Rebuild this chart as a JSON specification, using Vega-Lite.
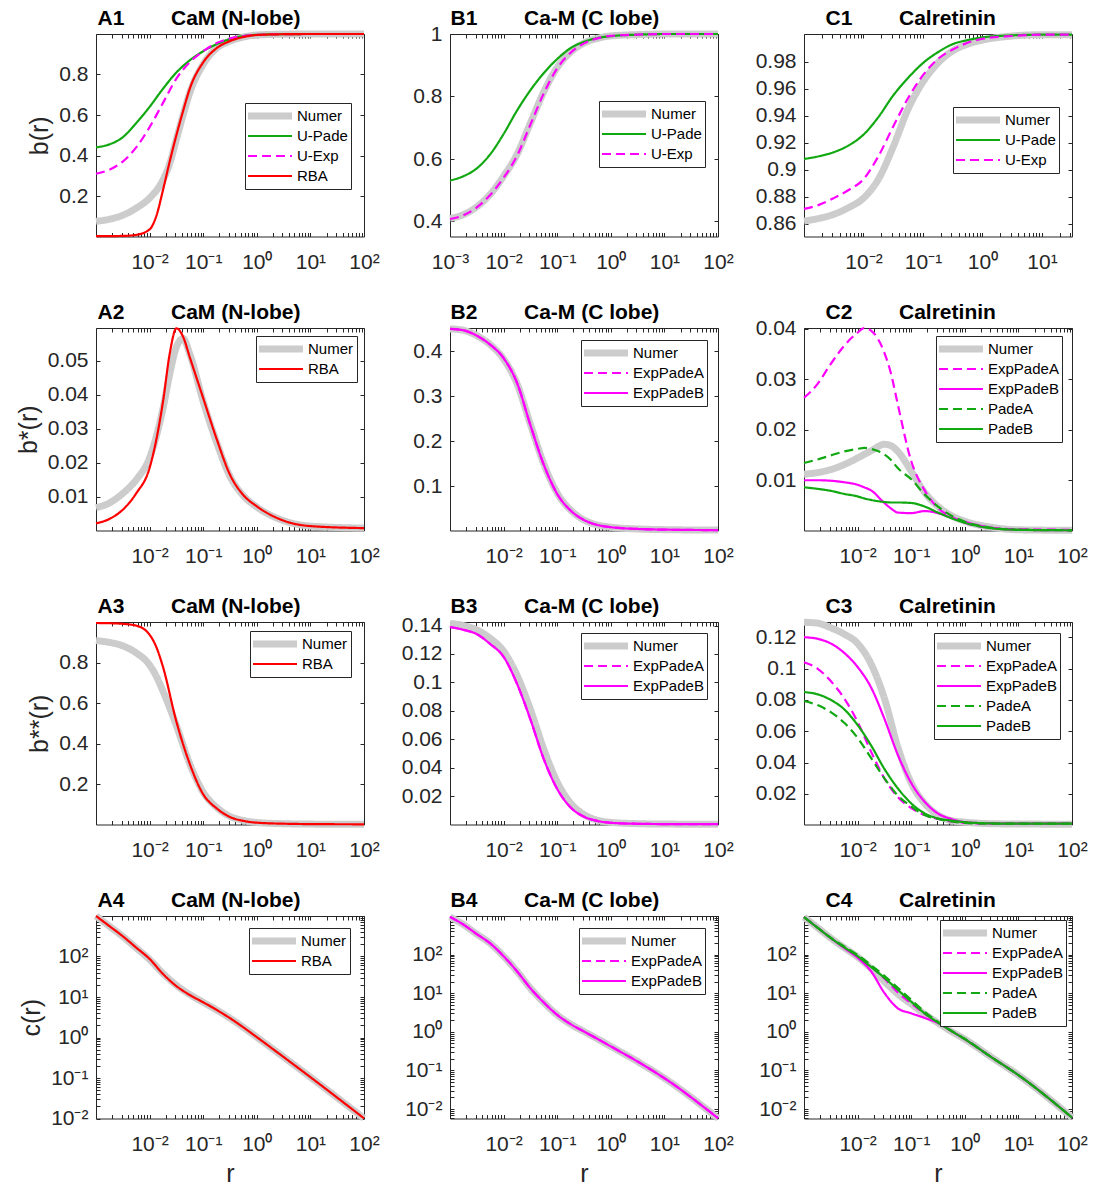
{
"$schema": "https://vega.github.io/schema/vega-lite/v6.json",
"background": "white",
"padding": {"left": 15, "top": 7, "right": 5, "bottom": 5},
"config": {
  "font": "Liberation Sans",
  "view": {"stroke": "#262626", "strokeWidth": 1},
  "axis": {"domain": false, "grid": false, "labelFontSize": 21, "labelFont": "Liberation Sans", "labelColor": "#262626", "tickColor": "#262626", "tickSize": -4, "titleFontSize": 25, "titleFontWeight": "normal", "titleColor": "#262626", "titleFont": "Liberation Sans", "labelFlush": false, "labelOverlap": false, "titlePadding": 6},
  "axisX": {"labelPadding": 19, "titlePadding": 7},
  "axisY": {"labelPadding": 12},
  "axisTop": {"titleFontWeight": "bold", "titleFontSize": 21, "titleColor": "#000000", "titleAlign": "left", "titleBaseline": "alphabetic", "titleAnchor": "start", "titleY": -9.5},
  "legend": {"labelFontSize": 15, "labelFont": "Liberation Sans", "labelColor": "#000000", "strokeColor": "#262626", "fillColor": "#ffffff", "padding": 3, "symbolSize": 1936, "clipHeight": 20, "rowPadding": 0, "labelOffset": 19.5, "symbolOffset": 14.5, "cornerRadius": 0, "symbolType": "stroke"},
  "line": {"interpolate": "monotone", "clip": true}
},
"columns": 3,
"spacing": {"row": 91, "column": 86},
"bounds": "flush",
"resolve": {"scale": {"color": "independent", "strokeDash": "independent"}, "legend": {"color": "independent", "strokeDash": "independent"}},
"datasets": {
"A1": [
{"s":"Numer","r":0.001,"v":0.075},{"s":"Numer","r":0.00178,"v":0.085},{"s":"Numer","r":0.00316,"v":0.105},{"s":"Numer","r":0.00562,"v":0.14},{"s":"Numer","r":0.01,"v":0.19},{"s":"Numer","r":0.0178,"v":0.28},{"s":"Numer","r":0.0237,"v":0.36},{"s":"Numer","r":0.0316,"v":0.48},{"s":"Numer","r":0.0422,"v":0.6},{"s":"Numer","r":0.0562,"v":0.71},{"s":"Numer","r":0.1,"v":0.85},{"s":"Numer","r":0.178,"v":0.93},{"s":"Numer","r":0.316,"v":0.965},{"s":"Numer","r":0.562,"v":0.985},{"s":"Numer","r":1,"v":0.995},{"s":"Numer","r":3.16,"v":0.999},{"s":"Numer","r":10,"v":1},{"s":"Numer","r":100,"v":1},
{"s":"U-Pade","r":0.001,"v":0.44},{"s":"U-Pade","r":0.00178,"v":0.455},{"s":"U-Pade","r":0.00316,"v":0.49},{"s":"U-Pade","r":0.00562,"v":0.56},{"s":"U-Pade","r":0.01,"v":0.64},{"s":"U-Pade","r":0.0178,"v":0.73},{"s":"U-Pade","r":0.0316,"v":0.81},{"s":"U-Pade","r":0.0562,"v":0.87},{"s":"U-Pade","r":0.1,"v":0.915},{"s":"U-Pade","r":0.178,"v":0.95},{"s":"U-Pade","r":0.316,"v":0.975},{"s":"U-Pade","r":0.562,"v":0.99},{"s":"U-Pade","r":1,"v":0.996},{"s":"U-Pade","r":3.16,"v":0.999},{"s":"U-Pade","r":10,"v":1},{"s":"U-Pade","r":100,"v":1},
{"s":"U-Exp","r":0.001,"v":0.31},{"s":"U-Exp","r":0.00178,"v":0.33},{"s":"U-Exp","r":0.00316,"v":0.37},{"s":"U-Exp","r":0.00562,"v":0.44},{"s":"U-Exp","r":0.01,"v":0.54},{"s":"U-Exp","r":0.0178,"v":0.66},{"s":"U-Exp","r":0.0316,"v":0.78},{"s":"U-Exp","r":0.0562,"v":0.86},{"s":"U-Exp","r":0.1,"v":0.915},{"s":"U-Exp","r":0.178,"v":0.955},{"s":"U-Exp","r":0.316,"v":0.978},{"s":"U-Exp","r":0.562,"v":0.99},{"s":"U-Exp","r":1,"v":0.996},{"s":"U-Exp","r":3.16,"v":0.999},{"s":"U-Exp","r":10,"v":1},{"s":"U-Exp","r":100,"v":1},
{"s":"RBA","r":0.001,"v":0.002},{"s":"RBA","r":0.00178,"v":0.002},{"s":"RBA","r":0.00316,"v":0.003},{"s":"RBA","r":0.00562,"v":0.008},{"s":"RBA","r":0.01,"v":0.035},{"s":"RBA","r":0.0133,"v":0.1},{"s":"RBA","r":0.0178,"v":0.23},{"s":"RBA","r":0.0237,"v":0.37},{"s":"RBA","r":0.0316,"v":0.5},{"s":"RBA","r":0.0422,"v":0.62},{"s":"RBA","r":0.0562,"v":0.73},{"s":"RBA","r":0.1,"v":0.86},{"s":"RBA","r":0.178,"v":0.93},{"s":"RBA","r":0.316,"v":0.965},{"s":"RBA","r":0.562,"v":0.985},{"s":"RBA","r":1,"v":0.995},{"s":"RBA","r":3.16,"v":0.999},{"s":"RBA","r":10,"v":1},{"s":"RBA","r":100,"v":1}
],
"B1": [
{"s":"Numer","r":0.001,"v":0.41},{"s":"Numer","r":0.00178,"v":0.422},{"s":"Numer","r":0.00316,"v":0.447},{"s":"Numer","r":0.00562,"v":0.487},{"s":"Numer","r":0.01,"v":0.545},{"s":"Numer","r":0.0178,"v":0.615},{"s":"Numer","r":0.0316,"v":0.715},{"s":"Numer","r":0.0562,"v":0.815},{"s":"Numer","r":0.1,"v":0.893},{"s":"Numer","r":0.178,"v":0.942},{"s":"Numer","r":0.316,"v":0.971},{"s":"Numer","r":0.562,"v":0.986},{"s":"Numer","r":1,"v":0.994},{"s":"Numer","r":3.16,"v":0.998},{"s":"Numer","r":10,"v":1},{"s":"Numer","r":100,"v":1},
{"s":"U-Pade","r":0.001,"v":0.531},{"s":"U-Pade","r":0.00178,"v":0.545},{"s":"U-Pade","r":0.00316,"v":0.57},{"s":"U-Pade","r":0.00562,"v":0.615},{"s":"U-Pade","r":0.01,"v":0.68},{"s":"U-Pade","r":0.0178,"v":0.755},{"s":"U-Pade","r":0.0316,"v":0.82},{"s":"U-Pade","r":0.0562,"v":0.875},{"s":"U-Pade","r":0.1,"v":0.92},{"s":"U-Pade","r":0.178,"v":0.955},{"s":"U-Pade","r":0.316,"v":0.975},{"s":"U-Pade","r":0.562,"v":0.987},{"s":"U-Pade","r":1,"v":0.993},{"s":"U-Pade","r":3.16,"v":0.998},{"s":"U-Pade","r":10,"v":1},{"s":"U-Pade","r":100,"v":1},
{"s":"U-Exp","r":0.001,"v":0.408},{"s":"U-Exp","r":0.00178,"v":0.42},{"s":"U-Exp","r":0.00316,"v":0.445},{"s":"U-Exp","r":0.00562,"v":0.485},{"s":"U-Exp","r":0.01,"v":0.54},{"s":"U-Exp","r":0.0178,"v":0.61},{"s":"U-Exp","r":0.0316,"v":0.71},{"s":"U-Exp","r":0.0562,"v":0.81},{"s":"U-Exp","r":0.1,"v":0.89},{"s":"U-Exp","r":0.178,"v":0.94},{"s":"U-Exp","r":0.316,"v":0.97},{"s":"U-Exp","r":0.562,"v":0.986},{"s":"U-Exp","r":1,"v":0.994},{"s":"U-Exp","r":3.16,"v":0.998},{"s":"U-Exp","r":10,"v":1},{"s":"U-Exp","r":100,"v":1}
],
"C1": [
{"s":"Numer","r":0.001,"v":0.862},{"s":"Numer","r":0.00178,"v":0.864},{"s":"Numer","r":0.00316,"v":0.867},{"s":"Numer","r":0.00562,"v":0.872},{"s":"Numer","r":0.01,"v":0.879},{"s":"Numer","r":0.0178,"v":0.893},{"s":"Numer","r":0.0316,"v":0.917},{"s":"Numer","r":0.0562,"v":0.945},{"s":"Numer","r":0.1,"v":0.965},{"s":"Numer","r":0.178,"v":0.979},{"s":"Numer","r":0.316,"v":0.988},{"s":"Numer","r":0.562,"v":0.993},{"s":"Numer","r":1,"v":0.996},{"s":"Numer","r":3.16,"v":0.999},{"s":"Numer","r":10,"v":1},{"s":"Numer","r":32,"v":1},
{"s":"U-Pade","r":0.001,"v":0.908},{"s":"U-Pade","r":0.00178,"v":0.91},{"s":"U-Pade","r":0.00316,"v":0.913},{"s":"U-Pade","r":0.00562,"v":0.918},{"s":"U-Pade","r":0.01,"v":0.926},{"s":"U-Pade","r":0.0178,"v":0.939},{"s":"U-Pade","r":0.0316,"v":0.955},{"s":"U-Pade","r":0.0562,"v":0.968},{"s":"U-Pade","r":0.1,"v":0.979},{"s":"U-Pade","r":0.178,"v":0.987},{"s":"U-Pade","r":0.316,"v":0.993},{"s":"U-Pade","r":0.562,"v":0.996},{"s":"U-Pade","r":1,"v":0.998},{"s":"U-Pade","r":3.16,"v":0.9995},{"s":"U-Pade","r":10,"v":1},{"s":"U-Pade","r":32,"v":1},
{"s":"U-Exp","r":0.001,"v":0.871},{"s":"U-Exp","r":0.00178,"v":0.874},{"s":"U-Exp","r":0.00316,"v":0.879},{"s":"U-Exp","r":0.00562,"v":0.885},{"s":"U-Exp","r":0.01,"v":0.893},{"s":"U-Exp","r":0.0178,"v":0.91},{"s":"U-Exp","r":0.0316,"v":0.932},{"s":"U-Exp","r":0.0562,"v":0.953},{"s":"U-Exp","r":0.1,"v":0.97},{"s":"U-Exp","r":0.178,"v":0.982},{"s":"U-Exp","r":0.316,"v":0.989},{"s":"U-Exp","r":0.562,"v":0.994},{"s":"U-Exp","r":1,"v":0.997},{"s":"U-Exp","r":3.16,"v":0.999},{"s":"U-Exp","r":10,"v":1},{"s":"U-Exp","r":32,"v":1}
],
"A2": [
{"s":"Numer","r":0.001,"v":0.0068},{"s":"Numer","r":0.00178,"v":0.0082},{"s":"Numer","r":0.00316,"v":0.011},{"s":"Numer","r":0.00562,"v":0.015},{"s":"Numer","r":0.01,"v":0.0215},{"s":"Numer","r":0.0178,"v":0.036},{"s":"Numer","r":0.0237,"v":0.046},{"s":"Numer","r":0.0316,"v":0.054},{"s":"Numer","r":0.0422,"v":0.0565},{"s":"Numer","r":0.0562,"v":0.052},{"s":"Numer","r":0.1,"v":0.038},{"s":"Numer","r":0.178,"v":0.026},{"s":"Numer","r":0.316,"v":0.016},{"s":"Numer","r":0.562,"v":0.0103},{"s":"Numer","r":1,"v":0.007},{"s":"Numer","r":3.16,"v":0.003},{"s":"Numer","r":10,"v":0.0014},{"s":"Numer","r":100,"v":0.0008},
{"s":"RBA","r":0.001,"v":0.0022},{"s":"RBA","r":0.00178,"v":0.0035},{"s":"RBA","r":0.00316,"v":0.0062},{"s":"RBA","r":0.00562,"v":0.011},{"s":"RBA","r":0.01,"v":0.0185},{"s":"RBA","r":0.0178,"v":0.038},{"s":"RBA","r":0.0237,"v":0.052},{"s":"RBA","r":0.0316,"v":0.0595},{"s":"RBA","r":0.0422,"v":0.057},{"s":"RBA","r":0.0562,"v":0.051},{"s":"RBA","r":0.1,"v":0.039},{"s":"RBA","r":0.178,"v":0.027},{"s":"RBA","r":0.316,"v":0.0165},{"s":"RBA","r":0.562,"v":0.0105},{"s":"RBA","r":1,"v":0.0072},{"s":"RBA","r":3.16,"v":0.003},{"s":"RBA","r":10,"v":0.0014},{"s":"RBA","r":100,"v":0.0008}
],
"B2": [
{"s":"Numer","r":0.001,"v":0.45},{"s":"Numer","r":0.00178,"v":0.447},{"s":"Numer","r":0.00316,"v":0.435},{"s":"Numer","r":0.00562,"v":0.415},{"s":"Numer","r":0.01,"v":0.383},{"s":"Numer","r":0.0178,"v":0.328},{"s":"Numer","r":0.0316,"v":0.238},{"s":"Numer","r":0.0562,"v":0.15},{"s":"Numer","r":0.1,"v":0.085},{"s":"Numer","r":0.178,"v":0.047},{"s":"Numer","r":0.316,"v":0.025},{"s":"Numer","r":0.562,"v":0.014},{"s":"Numer","r":1,"v":0.009},{"s":"Numer","r":3.16,"v":0.005},{"s":"Numer","r":10,"v":0.0035},{"s":"Numer","r":100,"v":0.0025},
{"s":"ExpPadeA","r":0.001,"v":0.45},{"s":"ExpPadeA","r":0.00178,"v":0.447},{"s":"ExpPadeA","r":0.00316,"v":0.435},{"s":"ExpPadeA","r":0.00562,"v":0.415},{"s":"ExpPadeA","r":0.01,"v":0.385},{"s":"ExpPadeA","r":0.0178,"v":0.33},{"s":"ExpPadeA","r":0.0316,"v":0.236},{"s":"ExpPadeA","r":0.0562,"v":0.148},{"s":"ExpPadeA","r":0.1,"v":0.083},{"s":"ExpPadeA","r":0.178,"v":0.046},{"s":"ExpPadeA","r":0.316,"v":0.025},{"s":"ExpPadeA","r":0.562,"v":0.014},{"s":"ExpPadeA","r":1,"v":0.009},{"s":"ExpPadeA","r":3.16,"v":0.005},{"s":"ExpPadeA","r":10,"v":0.0035},{"s":"ExpPadeA","r":100,"v":0.0025},
{"s":"ExpPadeB","r":0.001,"v":0.45},{"s":"ExpPadeB","r":0.00178,"v":0.447},{"s":"ExpPadeB","r":0.00316,"v":0.435},{"s":"ExpPadeB","r":0.00562,"v":0.415},{"s":"ExpPadeB","r":0.01,"v":0.385},{"s":"ExpPadeB","r":0.0178,"v":0.33},{"s":"ExpPadeB","r":0.0316,"v":0.236},{"s":"ExpPadeB","r":0.0562,"v":0.148},{"s":"ExpPadeB","r":0.1,"v":0.083},{"s":"ExpPadeB","r":0.178,"v":0.046},{"s":"ExpPadeB","r":0.316,"v":0.025},{"s":"ExpPadeB","r":0.562,"v":0.014},{"s":"ExpPadeB","r":1,"v":0.009},{"s":"ExpPadeB","r":3.16,"v":0.005},{"s":"ExpPadeB","r":10,"v":0.0035},{"s":"ExpPadeB","r":100,"v":0.0025}
],
"C2": [
{"s":"Numer","r":0.001,"v":0.0112},{"s":"Numer","r":0.00178,"v":0.0115},{"s":"Numer","r":0.00316,"v":0.0121},{"s":"Numer","r":0.00562,"v":0.0131},{"s":"Numer","r":0.01,"v":0.0144},{"s":"Numer","r":0.0133,"v":0.0151},{"s":"Numer","r":0.0178,"v":0.0158},{"s":"Numer","r":0.0316,"v":0.0171},{"s":"Numer","r":0.0422,"v":0.0168},{"s":"Numer","r":0.0562,"v":0.0157},{"s":"Numer","r":0.1,"v":0.0118},{"s":"Numer","r":0.178,"v":0.0076},{"s":"Numer","r":0.316,"v":0.0048},{"s":"Numer","r":0.562,"v":0.003},{"s":"Numer","r":1,"v":0.0019},{"s":"Numer","r":3.16,"v":0.0007},{"s":"Numer","r":10,"v":0.0002},{"s":"Numer","r":100,"v":0.0001},
{"s":"ExpPadeA","r":0.001,"v":0.0263},{"s":"ExpPadeA","r":0.00178,"v":0.029},{"s":"ExpPadeA","r":0.00316,"v":0.033},{"s":"ExpPadeA","r":0.00562,"v":0.0366},{"s":"ExpPadeA","r":0.01,"v":0.0392},{"s":"ExpPadeA","r":0.0133,"v":0.0401},{"s":"ExpPadeA","r":0.0178,"v":0.0396},{"s":"ExpPadeA","r":0.0316,"v":0.0352},{"s":"ExpPadeA","r":0.0422,"v":0.031},{"s":"ExpPadeA","r":0.0562,"v":0.025},{"s":"ExpPadeA","r":0.1,"v":0.0138},{"s":"ExpPadeA","r":0.178,"v":0.008},{"s":"ExpPadeA","r":0.316,"v":0.0045},{"s":"ExpPadeA","r":0.562,"v":0.0028},{"s":"ExpPadeA","r":1,"v":0.0016},{"s":"ExpPadeA","r":3.16,"v":0.0006},{"s":"ExpPadeA","r":10,"v":0.0003},{"s":"ExpPadeA","r":100,"v":0.0002},
{"s":"ExpPadeB","r":0.001,"v":0.01},{"s":"ExpPadeB","r":0.00178,"v":0.01},{"s":"ExpPadeB","r":0.00316,"v":0.0099},{"s":"ExpPadeB","r":0.00562,"v":0.0096},{"s":"ExpPadeB","r":0.01,"v":0.0091},{"s":"ExpPadeB","r":0.0133,"v":0.0086},{"s":"ExpPadeB","r":0.0178,"v":0.008},{"s":"ExpPadeB","r":0.0316,"v":0.0055},{"s":"ExpPadeB","r":0.0422,"v":0.0044},{"s":"ExpPadeB","r":0.0562,"v":0.0036},{"s":"ExpPadeB","r":0.1,"v":0.0035},{"s":"ExpPadeB","r":0.178,"v":0.0039},{"s":"ExpPadeB","r":0.316,"v":0.0035},{"s":"ExpPadeB","r":0.562,"v":0.0026},{"s":"ExpPadeB","r":1,"v":0.0018},{"s":"ExpPadeB","r":3.16,"v":0.0006},{"s":"ExpPadeB","r":10,"v":0.0002},{"s":"ExpPadeB","r":100,"v":0.0001},
{"s":"PadeA","r":0.001,"v":0.0134},{"s":"PadeA","r":0.00178,"v":0.0141},{"s":"PadeA","r":0.00316,"v":0.0149},{"s":"PadeA","r":0.00562,"v":0.0157},{"s":"PadeA","r":0.01,"v":0.0162},{"s":"PadeA","r":0.0133,"v":0.0164},{"s":"PadeA","r":0.0178,"v":0.0162},{"s":"PadeA","r":0.0316,"v":0.0151},{"s":"PadeA","r":0.0422,"v":0.014},{"s":"PadeA","r":0.0562,"v":0.0124},{"s":"PadeA","r":0.1,"v":0.0102},{"s":"PadeA","r":0.178,"v":0.0072},{"s":"PadeA","r":0.316,"v":0.0048},{"s":"PadeA","r":0.562,"v":0.003},{"s":"PadeA","r":1,"v":0.0018},{"s":"PadeA","r":3.16,"v":0.0006},{"s":"PadeA","r":10,"v":0.0002},{"s":"PadeA","r":100,"v":0.0001},
{"s":"PadeB","r":0.001,"v":0.0086},{"s":"PadeB","r":0.00178,"v":0.0083},{"s":"PadeB","r":0.00316,"v":0.0079},{"s":"PadeB","r":0.00562,"v":0.0073},{"s":"PadeB","r":0.01,"v":0.0068},{"s":"PadeB","r":0.0133,"v":0.0064},{"s":"PadeB","r":0.0178,"v":0.0061},{"s":"PadeB","r":0.0316,"v":0.0057},{"s":"PadeB","r":0.0422,"v":0.0056},{"s":"PadeB","r":0.0562,"v":0.0056},{"s":"PadeB","r":0.1,"v":0.0055},{"s":"PadeB","r":0.178,"v":0.0048},{"s":"PadeB","r":0.316,"v":0.0036},{"s":"PadeB","r":0.562,"v":0.0025},{"s":"PadeB","r":1,"v":0.0016},{"s":"PadeB","r":3.16,"v":0.0005},{"s":"PadeB","r":10,"v":0.0002},{"s":"PadeB","r":100,"v":0.0001}
],
"A3": [
{"s":"Numer","r":0.001,"v":0.911},{"s":"Numer","r":0.00178,"v":0.902},{"s":"Numer","r":0.00316,"v":0.885},{"s":"Numer","r":0.00562,"v":0.85},{"s":"Numer","r":0.01,"v":0.79},{"s":"Numer","r":0.0133,"v":0.735},{"s":"Numer","r":0.0178,"v":0.66},{"s":"Numer","r":0.0316,"v":0.49},{"s":"Numer","r":0.0562,"v":0.3},{"s":"Numer","r":0.1,"v":0.16},{"s":"Numer","r":0.178,"v":0.085},{"s":"Numer","r":0.316,"v":0.04},{"s":"Numer","r":0.562,"v":0.02},{"s":"Numer","r":1,"v":0.01},{"s":"Numer","r":3.16,"v":0.004},{"s":"Numer","r":10,"v":0.002},{"s":"Numer","r":100,"v":0.001},
{"s":"RBA","r":0.001,"v":0.998},{"s":"RBA","r":0.00178,"v":0.997},{"s":"RBA","r":0.00316,"v":0.994},{"s":"RBA","r":0.00562,"v":0.985},{"s":"RBA","r":0.01,"v":0.94},{"s":"RBA","r":0.0133,"v":0.88},{"s":"RBA","r":0.0178,"v":0.78},{"s":"RBA","r":0.0316,"v":0.51},{"s":"RBA","r":0.0562,"v":0.3},{"s":"RBA","r":0.1,"v":0.15},{"s":"RBA","r":0.178,"v":0.08},{"s":"RBA","r":0.316,"v":0.037},{"s":"RBA","r":0.562,"v":0.018},{"s":"RBA","r":1,"v":0.009},{"s":"RBA","r":3.16,"v":0.004},{"s":"RBA","r":10,"v":0.002},{"s":"RBA","r":100,"v":0.001}
],
"B3": [
{"s":"Numer","r":0.001,"v":0.1415},{"s":"Numer","r":0.00178,"v":0.14},{"s":"Numer","r":0.00316,"v":0.137},{"s":"Numer","r":0.00562,"v":0.131},{"s":"Numer","r":0.01,"v":0.122},{"s":"Numer","r":0.0178,"v":0.105},{"s":"Numer","r":0.0316,"v":0.081},{"s":"Numer","r":0.0562,"v":0.053},{"s":"Numer","r":0.1,"v":0.03},{"s":"Numer","r":0.178,"v":0.015},{"s":"Numer","r":0.316,"v":0.007},{"s":"Numer","r":0.562,"v":0.003},{"s":"Numer","r":1,"v":0.0015},{"s":"Numer","r":3.16,"v":0.0006},{"s":"Numer","r":10,"v":0.0003},{"s":"Numer","r":100,"v":0.0002},
{"s":"ExpPadeA","r":0.001,"v":0.139},{"s":"ExpPadeA","r":0.00178,"v":0.137},{"s":"ExpPadeA","r":0.00316,"v":0.134},{"s":"ExpPadeA","r":0.00562,"v":0.127},{"s":"ExpPadeA","r":0.01,"v":0.118},{"s":"ExpPadeA","r":0.0178,"v":0.099},{"s":"ExpPadeA","r":0.0316,"v":0.074},{"s":"ExpPadeA","r":0.0562,"v":0.046},{"s":"ExpPadeA","r":0.1,"v":0.025},{"s":"ExpPadeA","r":0.178,"v":0.012},{"s":"ExpPadeA","r":0.316,"v":0.0055},{"s":"ExpPadeA","r":0.562,"v":0.0025},{"s":"ExpPadeA","r":1,"v":0.0012},{"s":"ExpPadeA","r":3.16,"v":0.0005},{"s":"ExpPadeA","r":10,"v":0.0003},{"s":"ExpPadeA","r":100,"v":0.0002},
{"s":"ExpPadeB","r":0.001,"v":0.139},{"s":"ExpPadeB","r":0.00178,"v":0.137},{"s":"ExpPadeB","r":0.00316,"v":0.134},{"s":"ExpPadeB","r":0.00562,"v":0.127},{"s":"ExpPadeB","r":0.01,"v":0.118},{"s":"ExpPadeB","r":0.0178,"v":0.099},{"s":"ExpPadeB","r":0.0316,"v":0.074},{"s":"ExpPadeB","r":0.0562,"v":0.046},{"s":"ExpPadeB","r":0.1,"v":0.025},{"s":"ExpPadeB","r":0.178,"v":0.012},{"s":"ExpPadeB","r":0.316,"v":0.0055},{"s":"ExpPadeB","r":0.562,"v":0.0025},{"s":"ExpPadeB","r":1,"v":0.0012},{"s":"ExpPadeB","r":3.16,"v":0.0005},{"s":"ExpPadeB","r":10,"v":0.0003},{"s":"ExpPadeB","r":100,"v":0.0002}
],
"C3": [
{"s":"Numer","r":0.001,"v":0.1295},{"s":"Numer","r":0.00178,"v":0.129},{"s":"Numer","r":0.00316,"v":0.126},{"s":"Numer","r":0.00562,"v":0.122},{"s":"Numer","r":0.01,"v":0.116},{"s":"Numer","r":0.0178,"v":0.103},{"s":"Numer","r":0.0316,"v":0.081},{"s":"Numer","r":0.0562,"v":0.05},{"s":"Numer","r":0.1,"v":0.027},{"s":"Numer","r":0.178,"v":0.014},{"s":"Numer","r":0.316,"v":0.0065},{"s":"Numer","r":0.562,"v":0.003},{"s":"Numer","r":1,"v":0.002},{"s":"Numer","r":3.16,"v":0.001},{"s":"Numer","r":10,"v":0.0008},{"s":"Numer","r":100,"v":0.0007},
{"s":"ExpPadeA","r":0.001,"v":0.104},{"s":"ExpPadeA","r":0.00178,"v":0.1},{"s":"ExpPadeA","r":0.00316,"v":0.092},{"s":"ExpPadeA","r":0.00562,"v":0.081},{"s":"ExpPadeA","r":0.01,"v":0.066},{"s":"ExpPadeA","r":0.0178,"v":0.047},{"s":"ExpPadeA","r":0.0316,"v":0.03},{"s":"ExpPadeA","r":0.0562,"v":0.018},{"s":"ExpPadeA","r":0.1,"v":0.011},{"s":"ExpPadeA","r":0.178,"v":0.0065},{"s":"ExpPadeA","r":0.316,"v":0.004},{"s":"ExpPadeA","r":0.562,"v":0.0025},{"s":"ExpPadeA","r":1,"v":0.0015},{"s":"ExpPadeA","r":3.16,"v":0.001},{"s":"ExpPadeA","r":10,"v":0.001},{"s":"ExpPadeA","r":100,"v":0.001},
{"s":"ExpPadeB","r":0.001,"v":0.12},{"s":"ExpPadeB","r":0.00178,"v":0.119},{"s":"ExpPadeB","r":0.00316,"v":0.116},{"s":"ExpPadeB","r":0.00562,"v":0.11},{"s":"ExpPadeB","r":0.01,"v":0.101},{"s":"ExpPadeB","r":0.0178,"v":0.088},{"s":"ExpPadeB","r":0.0316,"v":0.068},{"s":"ExpPadeB","r":0.0562,"v":0.045},{"s":"ExpPadeB","r":0.1,"v":0.027},{"s":"ExpPadeB","r":0.178,"v":0.015},{"s":"ExpPadeB","r":0.316,"v":0.0075},{"s":"ExpPadeB","r":0.562,"v":0.004},{"s":"ExpPadeB","r":1,"v":0.002},{"s":"ExpPadeB","r":3.16,"v":0.0012},{"s":"ExpPadeB","r":10,"v":0.001},{"s":"ExpPadeB","r":100,"v":0.001},
{"s":"PadeA","r":0.001,"v":0.0793},{"s":"PadeA","r":0.00178,"v":0.0767},{"s":"PadeA","r":0.00316,"v":0.0722},{"s":"PadeA","r":0.00562,"v":0.0654},{"s":"PadeA","r":0.01,"v":0.0558},{"s":"PadeA","r":0.0178,"v":0.043},{"s":"PadeA","r":0.0316,"v":0.03},{"s":"PadeA","r":0.0562,"v":0.019},{"s":"PadeA","r":0.1,"v":0.012},{"s":"PadeA","r":0.178,"v":0.0065},{"s":"PadeA","r":0.316,"v":0.004},{"s":"PadeA","r":0.562,"v":0.0025},{"s":"PadeA","r":1,"v":0.0015},{"s":"PadeA","r":3.16,"v":0.001},{"s":"PadeA","r":10,"v":0.001},{"s":"PadeA","r":100,"v":0.001},
{"s":"PadeB","r":0.001,"v":0.085},{"s":"PadeB","r":0.00178,"v":0.0836},{"s":"PadeB","r":0.00316,"v":0.08},{"s":"PadeB","r":0.00562,"v":0.074},{"s":"PadeB","r":0.01,"v":0.064},{"s":"PadeB","r":0.0178,"v":0.051},{"s":"PadeB","r":0.0316,"v":0.036},{"s":"PadeB","r":0.0562,"v":0.0236},{"s":"PadeB","r":0.1,"v":0.014},{"s":"PadeB","r":0.178,"v":0.0076},{"s":"PadeB","r":0.316,"v":0.0044},{"s":"PadeB","r":0.562,"v":0.003},{"s":"PadeB","r":1,"v":0.002},{"s":"PadeB","r":3.16,"v":0.0012},{"s":"PadeB","r":10,"v":0.001},{"s":"PadeB","r":100,"v":0.001}
],
"A4": [
{"s":"Numer","r":0.001,"v":1000},{"s":"Numer","r":0.00178,"v":560},{"s":"Numer","r":0.00316,"v":312},{"s":"Numer","r":0.00562,"v":163},{"s":"Numer","r":0.01,"v":84},{"s":"Numer","r":0.0178,"v":38},{"s":"Numer","r":0.0316,"v":19.5},{"s":"Numer","r":0.0562,"v":11.5},{"s":"Numer","r":0.1,"v":7.4},{"s":"Numer","r":0.178,"v":4.8},{"s":"Numer","r":0.316,"v":3.0},{"s":"Numer","r":0.562,"v":1.78},{"s":"Numer","r":1,"v":1.02},{"s":"Numer","r":3.16,"v":0.33},{"s":"Numer","r":10,"v":0.105},{"s":"Numer","r":100,"v":0.0101},
{"s":"RBA","r":0.001,"v":1000},{"s":"RBA","r":0.00178,"v":562},{"s":"RBA","r":0.00316,"v":316},{"s":"RBA","r":0.00562,"v":166},{"s":"RBA","r":0.01,"v":87},{"s":"RBA","r":0.0178,"v":37},{"s":"RBA","r":0.0316,"v":18.6},{"s":"RBA","r":0.0562,"v":11.2},{"s":"RBA","r":0.1,"v":7.4},{"s":"RBA","r":0.178,"v":4.8},{"s":"RBA","r":0.316,"v":3.0},{"s":"RBA","r":0.562,"v":1.78},{"s":"RBA","r":1,"v":1.02},{"s":"RBA","r":3.16,"v":0.33},{"s":"RBA","r":10,"v":0.105},{"s":"RBA","r":100,"v":0.0101}
],
"B4": [
{"s":"Numer","r":0.001,"v":950},{"s":"Numer","r":0.00178,"v":600},{"s":"Numer","r":0.00316,"v":340},{"s":"Numer","r":0.00562,"v":195},{"s":"Numer","r":0.01,"v":91},{"s":"Numer","r":0.0178,"v":37},{"s":"Numer","r":0.0316,"v":13.5},{"s":"Numer","r":0.0562,"v":5.75},{"s":"Numer","r":0.1,"v":2.75},{"s":"Numer","r":0.178,"v":1.58},{"s":"Numer","r":0.316,"v":1.02},{"s":"Numer","r":0.562,"v":0.66},{"s":"Numer","r":1,"v":0.42},{"s":"Numer","r":3.16,"v":0.17},{"s":"Numer","r":10,"v":0.063},{"s":"Numer","r":100,"v":0.0058},
{"s":"ExpPadeA","r":0.001,"v":950},{"s":"ExpPadeA","r":0.00178,"v":600},{"s":"ExpPadeA","r":0.00316,"v":340},{"s":"ExpPadeA","r":0.00562,"v":195},{"s":"ExpPadeA","r":0.01,"v":91},{"s":"ExpPadeA","r":0.0178,"v":37},{"s":"ExpPadeA","r":0.0316,"v":13.5},{"s":"ExpPadeA","r":0.0562,"v":5.75},{"s":"ExpPadeA","r":0.1,"v":2.75},{"s":"ExpPadeA","r":0.178,"v":1.58},{"s":"ExpPadeA","r":0.316,"v":1.02},{"s":"ExpPadeA","r":0.562,"v":0.66},{"s":"ExpPadeA","r":1,"v":0.42},{"s":"ExpPadeA","r":3.16,"v":0.17},{"s":"ExpPadeA","r":10,"v":0.063},{"s":"ExpPadeA","r":100,"v":0.0058},
{"s":"ExpPadeB","r":0.001,"v":950},{"s":"ExpPadeB","r":0.00178,"v":600},{"s":"ExpPadeB","r":0.00316,"v":340},{"s":"ExpPadeB","r":0.00562,"v":195},{"s":"ExpPadeB","r":0.01,"v":91},{"s":"ExpPadeB","r":0.0178,"v":37},{"s":"ExpPadeB","r":0.0316,"v":13.5},{"s":"ExpPadeB","r":0.0562,"v":5.75},{"s":"ExpPadeB","r":0.1,"v":2.75},{"s":"ExpPadeB","r":0.178,"v":1.58},{"s":"ExpPadeB","r":0.316,"v":1.02},{"s":"ExpPadeB","r":0.562,"v":0.66},{"s":"ExpPadeB","r":1,"v":0.42},{"s":"ExpPadeB","r":3.16,"v":0.17},{"s":"ExpPadeB","r":10,"v":0.063},{"s":"ExpPadeB","r":100,"v":0.0058}
],
"C4": [
{"s":"Numer","r":0.001,"v":933},{"s":"Numer","r":0.00178,"v":501},{"s":"Numer","r":0.00316,"v":269},{"s":"Numer","r":0.00562,"v":151},{"s":"Numer","r":0.01,"v":87.1},{"s":"Numer","r":0.0178,"v":43.7},{"s":"Numer","r":0.0316,"v":20},{"s":"Numer","r":0.0562,"v":9.55},{"s":"Numer","r":0.1,"v":5.25},{"s":"Numer","r":0.178,"v":2.88},{"s":"Numer","r":0.316,"v":1.7},{"s":"Numer","r":0.562,"v":1.02},{"s":"Numer","r":1,"v":0.646},{"s":"Numer","r":3.16,"v":0.219},{"s":"Numer","r":10,"v":0.0759},{"s":"Numer","r":100,"v":0.00603},
{"s":"ExpPadeA","r":0.001,"v":933},{"s":"ExpPadeA","r":0.00178,"v":501},{"s":"ExpPadeA","r":0.00316,"v":269},{"s":"ExpPadeA","r":0.00562,"v":155},{"s":"ExpPadeA","r":0.01,"v":89.1},{"s":"ExpPadeA","r":0.0178,"v":49},{"s":"ExpPadeA","r":0.0316,"v":24},{"s":"ExpPadeA","r":0.0562,"v":10.5},{"s":"ExpPadeA","r":0.1,"v":5.5},{"s":"ExpPadeA","r":0.178,"v":2.95},{"s":"ExpPadeA","r":0.316,"v":1.74},{"s":"ExpPadeA","r":0.562,"v":1.05},{"s":"ExpPadeA","r":1,"v":0.646},{"s":"ExpPadeA","r":3.16,"v":0.219},{"s":"ExpPadeA","r":10,"v":0.0759},{"s":"ExpPadeA","r":100,"v":0.00603},
{"s":"ExpPadeB","r":0.001,"v":933},{"s":"ExpPadeB","r":0.00178,"v":501},{"s":"ExpPadeB","r":0.00316,"v":269},{"s":"ExpPadeB","r":0.00562,"v":148},{"s":"ExpPadeB","r":0.01,"v":83.2},{"s":"ExpPadeB","r":0.0178,"v":37.2},{"s":"ExpPadeB","r":0.0316,"v":10.2},{"s":"ExpPadeB","r":0.0562,"v":4.07},{"s":"ExpPadeB","r":0.1,"v":3.02},{"s":"ExpPadeB","r":0.178,"v":2.29},{"s":"ExpPadeB","r":0.316,"v":1.7},{"s":"ExpPadeB","r":0.562,"v":1.05},{"s":"ExpPadeB","r":1,"v":0.646},{"s":"ExpPadeB","r":3.16,"v":0.219},{"s":"ExpPadeB","r":10,"v":0.0759},{"s":"ExpPadeB","r":100,"v":0.00603},
{"s":"PadeA","r":0.001,"v":933},{"s":"PadeA","r":0.00178,"v":501},{"s":"PadeA","r":0.00316,"v":275},{"s":"PadeA","r":0.00562,"v":162},{"s":"PadeA","r":0.01,"v":97.7},{"s":"PadeA","r":0.0178,"v":53.7},{"s":"PadeA","r":0.0316,"v":28.2},{"s":"PadeA","r":0.0562,"v":13.8},{"s":"PadeA","r":0.1,"v":6.76},{"s":"PadeA","r":0.178,"v":3.31},{"s":"PadeA","r":0.316,"v":1.82},{"s":"PadeA","r":0.562,"v":1.07},{"s":"PadeA","r":1,"v":0.661},{"s":"PadeA","r":3.16,"v":0.219},{"s":"PadeA","r":10,"v":0.0759},{"s":"PadeA","r":100,"v":0.00603},
{"s":"PadeB","r":0.001,"v":933},{"s":"PadeB","r":0.00178,"v":501},{"s":"PadeB","r":0.00316,"v":269},{"s":"PadeB","r":0.00562,"v":155},{"s":"PadeB","r":0.01,"v":91.2},{"s":"PadeB","r":0.0178,"v":47.9},{"s":"PadeB","r":0.0316,"v":25.1},{"s":"PadeB","r":0.0562,"v":12.3},{"s":"PadeB","r":0.1,"v":6.03},{"s":"PadeB","r":0.178,"v":3.02},{"s":"PadeB","r":0.316,"v":1.74},{"s":"PadeB","r":0.562,"v":1.05},{"s":"PadeB","r":1,"v":0.646},{"s":"PadeB","r":3.16,"v":0.219},{"s":"PadeB","r":10,"v":0.0759},{"s":"PadeB","r":100,"v":0.00603}
]
},
"concat": [
{"data": {"name": "A1"}, "width": 268, "height": 202.5,
 "resolve": {"axis": {"x": "independent", "y": "independent"}},
 "encoding": {
  "x": {"field": "r", "type": "quantitative", "scale": {"type": "log", "domain": [0.001, 100]}, "axis": {"tickCount": 50, "labelExpr": "abs(log(datum.value)/LN10-round(log(datum.value)/LN10))<0.001 && datum.value>0.0015 ? '10'+replace(replace(replace(replace(replace(toString(round(log(datum.value)/LN10)),'-','⁻'),'0','⁰'),'1','¹'),'2','²'),'3','³') : ''", "title": null}},
  "y": {"field": "v", "type": "quantitative", "scale": {"domain": [0, 1]}, "axis": {"values": [0.2, 0.4, 0.6, 0.8], "format": "~g", "title": "b(r)"}},
  "color": {"field": "s", "type": "nominal", "scale": {"domain": ["Numer", "U-Pade", "U-Exp", "RBA"], "range": ["#cccccc", "#12a812", "#ff00ff", "#ff0000"]}, "legend": {"title": null, "orient": "none", "legendX": 149, "legendY": 69, "encode": {"symbols": {"update": {"strokeWidth": {"signal": "datum.value==='Numer'?7:2.2"}}}}}},
  "strokeDash": {"field": "s", "type": "nominal", "scale": {"domain": ["Numer", "U-Pade", "U-Exp", "RBA"], "range": [[1, 0], [1, 0], [9, 5], [1, 0]]}, "legend": {"title": null, "orient": "none", "legendX": 149, "legendY": 69, "encode": {"symbols": {"update": {"strokeWidth": {"signal": "datum.value==='Numer'?7:2.2"}}}}}}
 },
 "layer": [
  {"transform": [{"filter": "datum.s==='Numer'"}], "mark": {"type": "line", "strokeWidth": 7},
   "encoding": {"x": {"field": "r", "type": "quantitative", "scale": {"type": "log", "domain": [0.001, 100]}, "axis": {"orient": "top", "tickCount": 50, "labels": false, "title": "A1\u00a0\u00a0\u00a0\u00a0\u00a0\u00a0\u00a0\u00a0CaM (N-lobe)", "titleX": 1}},
                "y": {"field": "v", "type": "quantitative", "scale": {"domain": [0, 1]}, "axis": {"orient": "right", "values": [0.2, 0.4, 0.6, 0.8], "labels": false, "title": null}}}},
  {"transform": [{"filter": "datum.s!=='Numer'"}], "mark": {"type": "line", "strokeWidth": 2.2}}
 ]},
{"data": {"name": "B1"}, "width": 268, "height": 202.5,
 "resolve": {"axis": {"x": "independent", "y": "independent"}},
 "encoding": {
  "x": {"field": "r", "type": "quantitative", "scale": {"type": "log", "domain": [0.001, 100]}, "axis": {"tickCount": 50, "labelExpr": "abs(log(datum.value)/LN10-round(log(datum.value)/LN10))<0.001 ? '10'+replace(replace(replace(replace(replace(toString(round(log(datum.value)/LN10)),'-','⁻'),'0','⁰'),'1','¹'),'2','²'),'3','³') : ''", "title": null}},
  "y": {"field": "v", "type": "quantitative", "scale": {"domain": [0.352, 1]}, "axis": {"values": [0.4, 0.6, 0.8, 1], "format": "~g", "title": null}},
  "color": {"field": "s", "type": "nominal", "scale": {"domain": ["Numer", "U-Pade", "U-Exp"], "range": ["#cccccc", "#12a812", "#ff00ff"]}, "legend": {"title": null, "orient": "none", "legendX": 149, "legendY": 67, "encode": {"symbols": {"update": {"strokeWidth": {"signal": "datum.value==='Numer'?7:2.2"}}}}}},
  "strokeDash": {"field": "s", "type": "nominal", "scale": {"domain": ["Numer", "U-Pade", "U-Exp"], "range": [[1, 0], [1, 0], [9, 5]]}, "legend": {"title": null, "orient": "none", "legendX": 149, "legendY": 67, "encode": {"symbols": {"update": {"strokeWidth": {"signal": "datum.value==='Numer'?7:2.2"}}}}}}
 },
 "layer": [
  {"transform": [{"filter": "datum.s==='Numer'"}], "mark": {"type": "line", "strokeWidth": 7},
   "encoding": {"x": {"field": "r", "type": "quantitative", "scale": {"type": "log", "domain": [0.001, 100]}, "axis": {"orient": "top", "tickCount": 50, "labels": false, "title": "B1\u00a0\u00a0\u00a0\u00a0\u00a0\u00a0\u00a0\u00a0Ca-M (C lobe)", "titleX": 0}},
                "y": {"field": "v", "type": "quantitative", "scale": {"domain": [0.352, 1]}, "axis": {"orient": "right", "values": [0.4, 0.6, 0.8, 1], "labels": false, "title": null}}}},
  {"transform": [{"filter": "datum.s!=='Numer'"}], "mark": {"type": "line", "strokeWidth": 2.2}}
 ]},
{"data": {"name": "C1"}, "width": 268, "height": 202.5,
 "resolve": {"axis": {"x": "independent", "y": "independent"}},
 "encoding": {
  "x": {"field": "r", "type": "quantitative", "scale": {"type": "log", "domain": [0.001, 32]}, "axis": {"tickCount": 50, "labelExpr": "abs(log(datum.value)/LN10-round(log(datum.value)/LN10))<0.001 && datum.value>0.0015 ? '10'+replace(replace(replace(replace(replace(toString(round(log(datum.value)/LN10)),'-','⁻'),'0','⁰'),'1','¹'),'2','²'),'3','³') : ''", "title": null}},
  "y": {"field": "v", "type": "quantitative", "scale": {"domain": [0.8506, 1.0005]}, "axis": {"values": [0.86, 0.88, 0.9, 0.92, 0.94, 0.96, 0.98], "format": "~g", "title": null}},
  "color": {"field": "s", "type": "nominal", "scale": {"domain": ["Numer", "U-Pade", "U-Exp"], "range": ["#cccccc", "#12a812", "#ff00ff"]}, "legend": {"title": null, "orient": "none", "legendX": 149, "legendY": 73, "encode": {"symbols": {"update": {"strokeWidth": {"signal": "datum.value==='Numer'?7:2.2"}}}}}},
  "strokeDash": {"field": "s", "type": "nominal", "scale": {"domain": ["Numer", "U-Pade", "U-Exp"], "range": [[1, 0], [1, 0], [9, 5]]}, "legend": {"title": null, "orient": "none", "legendX": 149, "legendY": 73, "encode": {"symbols": {"update": {"strokeWidth": {"signal": "datum.value==='Numer'?7:2.2"}}}}}}
 },
 "layer": [
  {"transform": [{"filter": "datum.s==='Numer'"}], "mark": {"type": "line", "strokeWidth": 7},
   "encoding": {"x": {"field": "r", "type": "quantitative", "scale": {"type": "log", "domain": [0.001, 32]}, "axis": {"orient": "top", "tickCount": 50, "labels": false, "title": "C1\u00a0\u00a0\u00a0\u00a0\u00a0\u00a0\u00a0\u00a0Calretinin", "titleX": 21}},
                "y": {"field": "v", "type": "quantitative", "scale": {"domain": [0.8506, 1.0005]}, "axis": {"orient": "right", "values": [0.86, 0.88, 0.9, 0.92, 0.94, 0.96, 0.98], "labels": false, "title": null}}}},
  {"transform": [{"filter": "datum.s!=='Numer'"}], "mark": {"type": "line", "strokeWidth": 2.2}}
 ]},
{"data": {"name": "A2"}, "width": 268, "height": 202.5,
 "resolve": {"axis": {"x": "independent", "y": "independent"}},
 "encoding": {
  "x": {"field": "r", "type": "quantitative", "scale": {"type": "log", "domain": [0.001, 100]}, "axis": {"tickCount": 50, "labelExpr": "abs(log(datum.value)/LN10-round(log(datum.value)/LN10))<0.001 && datum.value>0.0015 ? '10'+replace(replace(replace(replace(replace(toString(round(log(datum.value)/LN10)),'-','⁻'),'0','⁰'),'1','¹'),'2','²'),'3','³') : ''", "title": null}},
  "y": {"field": "v", "type": "quantitative", "scale": {"domain": [0.0001, 0.0596]}, "axis": {"values": [0.01, 0.02, 0.03, 0.04, 0.05], "format": "~g", "title": "b*(r)"}},
  "color": {"field": "s", "type": "nominal", "scale": {"domain": ["Numer", "RBA"], "range": ["#cccccc", "#ff0000"]}, "legend": {"title": null, "orient": "none", "legendX": 160, "legendY": 8, "encode": {"symbols": {"update": {"strokeWidth": {"signal": "datum.value==='Numer'?7:2.2"}}}}}},
  "strokeDash": {"field": "s", "type": "nominal", "scale": {"domain": ["Numer", "RBA"], "range": [[1, 0], [1, 0]]}, "legend": {"title": null, "orient": "none", "legendX": 160, "legendY": 8, "encode": {"symbols": {"update": {"strokeWidth": {"signal": "datum.value==='Numer'?7:2.2"}}}}}}
 },
 "layer": [
  {"transform": [{"filter": "datum.s==='Numer'"}], "mark": {"type": "line", "strokeWidth": 7},
   "encoding": {"x": {"field": "r", "type": "quantitative", "scale": {"type": "log", "domain": [0.001, 100]}, "axis": {"orient": "top", "tickCount": 50, "labels": false, "title": "A2\u00a0\u00a0\u00a0\u00a0\u00a0\u00a0\u00a0\u00a0CaM (N-lobe)", "titleX": 1}},
                "y": {"field": "v", "type": "quantitative", "scale": {"domain": [0.0001, 0.0596]}, "axis": {"orient": "right", "values": [0.01, 0.02, 0.03, 0.04, 0.05], "labels": false, "title": null}}}},
  {"transform": [{"filter": "datum.s!=='Numer'"}], "mark": {"type": "line", "strokeWidth": 2.2}}
 ]},
{"data": {"name": "B2"}, "width": 268, "height": 202.5,
 "resolve": {"axis": {"x": "independent", "y": "independent"}},
 "encoding": {
  "x": {"field": "r", "type": "quantitative", "scale": {"type": "log", "domain": [0.001, 100]}, "axis": {"tickCount": 50, "labelExpr": "abs(log(datum.value)/LN10-round(log(datum.value)/LN10))<0.001 && datum.value>0.0015 ? '10'+replace(replace(replace(replace(replace(toString(round(log(datum.value)/LN10)),'-','⁻'),'0','⁰'),'1','¹'),'2','²'),'3','³') : ''", "title": null}},
  "y": {"field": "v", "type": "quantitative", "scale": {"domain": [0.0016, 0.452]}, "axis": {"values": [0.1, 0.2, 0.3, 0.4], "format": "~g", "title": null}},
  "color": {"field": "s", "type": "nominal", "scale": {"domain": ["Numer", "ExpPadeA", "ExpPadeB"], "range": ["#cccccc", "#ff00ff", "#ff00ff"]}, "legend": {"title": null, "orient": "none", "legendX": 131, "legendY": 12, "encode": {"symbols": {"update": {"strokeWidth": {"signal": "datum.value==='Numer'?7:2.2"}}}}}},
  "strokeDash": {"field": "s", "type": "nominal", "scale": {"domain": ["Numer", "ExpPadeA", "ExpPadeB"], "range": [[1, 0], [9, 5], [1, 0]]}, "legend": {"title": null, "orient": "none", "legendX": 131, "legendY": 12, "encode": {"symbols": {"update": {"strokeWidth": {"signal": "datum.value==='Numer'?7:2.2"}}}}}}
 },
 "layer": [
  {"transform": [{"filter": "datum.s==='Numer'"}], "mark": {"type": "line", "strokeWidth": 7},
   "encoding": {"x": {"field": "r", "type": "quantitative", "scale": {"type": "log", "domain": [0.001, 100]}, "axis": {"orient": "top", "tickCount": 50, "labels": false, "title": "B2\u00a0\u00a0\u00a0\u00a0\u00a0\u00a0\u00a0\u00a0Ca-M (C lobe)", "titleX": 0}},
                "y": {"field": "v", "type": "quantitative", "scale": {"domain": [0.0016, 0.452]}, "axis": {"orient": "right", "values": [0.1, 0.2, 0.3, 0.4], "labels": false, "title": null}}}},
  {"transform": [{"filter": "datum.s!=='Numer'"}], "mark": {"type": "line", "strokeWidth": 2.2}}
 ]},
{"data": {"name": "C2"}, "width": 268, "height": 202.5,
 "resolve": {"axis": {"x": "independent", "y": "independent"}},
 "encoding": {
  "x": {"field": "r", "type": "quantitative", "scale": {"type": "log", "domain": [0.001, 100]}, "axis": {"tickCount": 50, "labelExpr": "abs(log(datum.value)/LN10-round(log(datum.value)/LN10))<0.001 && datum.value>0.0015 ? '10'+replace(replace(replace(replace(replace(toString(round(log(datum.value)/LN10)),'-','⁻'),'0','⁰'),'1','¹'),'2','²'),'3','³') : ''", "title": null}},
  "y": {"field": "v", "type": "quantitative", "scale": {"domain": [0.00006, 0.0401]}, "axis": {"values": [0.01, 0.02, 0.03, 0.04], "format": "~g", "title": null}},
  "color": {"field": "s", "type": "nominal", "scale": {"domain": ["Numer", "ExpPadeA", "ExpPadeB", "PadeA", "PadeB"], "range": ["#cccccc", "#ff00ff", "#ff00ff", "#12a812", "#12a812"]}, "legend": {"title": null, "orient": "none", "legendX": 132, "legendY": 8, "encode": {"symbols": {"update": {"strokeWidth": {"signal": "datum.value==='Numer'?7:2.2"}}}}}},
  "strokeDash": {"field": "s", "type": "nominal", "scale": {"domain": ["Numer", "ExpPadeA", "ExpPadeB", "PadeA", "PadeB"], "range": [[1, 0], [9, 5], [1, 0], [9, 5], [1, 0]]}, "legend": {"title": null, "orient": "none", "legendX": 132, "legendY": 8, "encode": {"symbols": {"update": {"strokeWidth": {"signal": "datum.value==='Numer'?7:2.2"}}}}}}
 },
 "layer": [
  {"transform": [{"filter": "datum.s==='Numer'"}], "mark": {"type": "line", "strokeWidth": 7},
   "encoding": {"x": {"field": "r", "type": "quantitative", "scale": {"type": "log", "domain": [0.001, 100]}, "axis": {"orient": "top", "tickCount": 50, "labels": false, "title": "C2\u00a0\u00a0\u00a0\u00a0\u00a0\u00a0\u00a0\u00a0Calretinin", "titleX": 21}},
                "y": {"field": "v", "type": "quantitative", "scale": {"domain": [0.00006, 0.0401]}, "axis": {"orient": "right", "values": [0.01, 0.02, 0.03, 0.04], "labels": false, "title": null}}}},
  {"transform": [{"filter": "datum.s!=='Numer'"}], "mark": {"type": "line", "strokeWidth": 2.2}}
 ]},
{"data": {"name": "A3"}, "width": 268, "height": 202.5,
 "resolve": {"axis": {"x": "independent", "y": "independent"}},
 "encoding": {
  "x": {"field": "r", "type": "quantitative", "scale": {"type": "log", "domain": [0.001, 100]}, "axis": {"tickCount": 50, "labelExpr": "abs(log(datum.value)/LN10-round(log(datum.value)/LN10))<0.001 && datum.value>0.0015 ? '10'+replace(replace(replace(replace(replace(toString(round(log(datum.value)/LN10)),'-','⁻'),'0','⁰'),'1','¹'),'2','²'),'3','³') : ''", "title": null}},
  "y": {"field": "v", "type": "quantitative", "scale": {"domain": [0, 1.003]}, "axis": {"values": [0.2, 0.4, 0.6, 0.8], "format": "~g", "title": "b**(r)"}},
  "color": {"field": "s", "type": "nominal", "scale": {"domain": ["Numer", "RBA"], "range": ["#cccccc", "#ff0000"]}, "legend": {"title": null, "orient": "none", "legendX": 154, "legendY": 9, "encode": {"symbols": {"update": {"strokeWidth": {"signal": "datum.value==='Numer'?7:2.2"}}}}}},
  "strokeDash": {"field": "s", "type": "nominal", "scale": {"domain": ["Numer", "RBA"], "range": [[1, 0], [1, 0]]}, "legend": {"title": null, "orient": "none", "legendX": 154, "legendY": 9, "encode": {"symbols": {"update": {"strokeWidth": {"signal": "datum.value==='Numer'?7:2.2"}}}}}}
 },
 "layer": [
  {"transform": [{"filter": "datum.s==='Numer'"}], "mark": {"type": "line", "strokeWidth": 7},
   "encoding": {"x": {"field": "r", "type": "quantitative", "scale": {"type": "log", "domain": [0.001, 100]}, "axis": {"orient": "top", "tickCount": 50, "labels": false, "title": "A3\u00a0\u00a0\u00a0\u00a0\u00a0\u00a0\u00a0\u00a0CaM (N-lobe)", "titleX": 1}},
                "y": {"field": "v", "type": "quantitative", "scale": {"domain": [0, 1.003]}, "axis": {"orient": "right", "values": [0.2, 0.4, 0.6, 0.8], "labels": false, "title": null}}}},
  {"transform": [{"filter": "datum.s!=='Numer'"}], "mark": {"type": "line", "strokeWidth": 2.2}}
 ]},
{"data": {"name": "B3"}, "width": 268, "height": 202.5,
 "resolve": {"axis": {"x": "independent", "y": "independent"}},
 "encoding": {
  "x": {"field": "r", "type": "quantitative", "scale": {"type": "log", "domain": [0.001, 100]}, "axis": {"tickCount": 50, "labelExpr": "abs(log(datum.value)/LN10-round(log(datum.value)/LN10))<0.001 && datum.value>0.0015 ? '10'+replace(replace(replace(replace(replace(toString(round(log(datum.value)/LN10)),'-','⁻'),'0','⁰'),'1','¹'),'2','²'),'3','³') : ''", "title": null}},
  "y": {"field": "v", "type": "quantitative", "scale": {"domain": [0, 0.1425]}, "axis": {"values": [0.02, 0.04, 0.06, 0.08, 0.1, 0.12, 0.14], "format": "~g", "title": null}},
  "color": {"field": "s", "type": "nominal", "scale": {"domain": ["Numer", "ExpPadeA", "ExpPadeB"], "range": ["#cccccc", "#ff00ff", "#ff00ff"]}, "legend": {"title": null, "orient": "none", "legendX": 131, "legendY": 11, "encode": {"symbols": {"update": {"strokeWidth": {"signal": "datum.value==='Numer'?7:2.2"}}}}}},
  "strokeDash": {"field": "s", "type": "nominal", "scale": {"domain": ["Numer", "ExpPadeA", "ExpPadeB"], "range": [[1, 0], [9, 5], [1, 0]]}, "legend": {"title": null, "orient": "none", "legendX": 131, "legendY": 11, "encode": {"symbols": {"update": {"strokeWidth": {"signal": "datum.value==='Numer'?7:2.2"}}}}}}
 },
 "layer": [
  {"transform": [{"filter": "datum.s==='Numer'"}], "mark": {"type": "line", "strokeWidth": 7},
   "encoding": {"x": {"field": "r", "type": "quantitative", "scale": {"type": "log", "domain": [0.001, 100]}, "axis": {"orient": "top", "tickCount": 50, "labels": false, "title": "B3\u00a0\u00a0\u00a0\u00a0\u00a0\u00a0\u00a0\u00a0Ca-M (C lobe)", "titleX": 0}},
                "y": {"field": "v", "type": "quantitative", "scale": {"domain": [0, 0.1425]}, "axis": {"orient": "right", "values": [0.02, 0.04, 0.06, 0.08, 0.1, 0.12, 0.14], "labels": false, "title": null}}}},
  {"transform": [{"filter": "datum.s!=='Numer'"}], "mark": {"type": "line", "strokeWidth": 2.2}}
 ]},
{"data": {"name": "C3"}, "width": 268, "height": 202.5,
 "resolve": {"axis": {"x": "independent", "y": "independent"}},
 "encoding": {
  "x": {"field": "r", "type": "quantitative", "scale": {"type": "log", "domain": [0.001, 100]}, "axis": {"tickCount": 50, "labelExpr": "abs(log(datum.value)/LN10-round(log(datum.value)/LN10))<0.001 && datum.value>0.0015 ? '10'+replace(replace(replace(replace(replace(toString(round(log(datum.value)/LN10)),'-','⁻'),'0','⁰'),'1','¹'),'2','²'),'3','³') : ''", "title": null}},
  "y": {"field": "v", "type": "quantitative", "scale": {"domain": [0.0005, 0.1297]}, "axis": {"values": [0.02, 0.04, 0.06, 0.08, 0.1, 0.12], "format": "~g", "title": null}},
  "color": {"field": "s", "type": "nominal", "scale": {"domain": ["Numer", "ExpPadeA", "ExpPadeB", "PadeA", "PadeB"], "range": ["#cccccc", "#ff00ff", "#ff00ff", "#12a812", "#12a812"]}, "legend": {"title": null, "orient": "none", "legendX": 130, "legendY": 11, "encode": {"symbols": {"update": {"strokeWidth": {"signal": "datum.value==='Numer'?7:2.2"}}}}}},
  "strokeDash": {"field": "s", "type": "nominal", "scale": {"domain": ["Numer", "ExpPadeA", "ExpPadeB", "PadeA", "PadeB"], "range": [[1, 0], [9, 5], [1, 0], [9, 5], [1, 0]]}, "legend": {"title": null, "orient": "none", "legendX": 130, "legendY": 11, "encode": {"symbols": {"update": {"strokeWidth": {"signal": "datum.value==='Numer'?7:2.2"}}}}}}
 },
 "layer": [
  {"transform": [{"filter": "datum.s==='Numer'"}], "mark": {"type": "line", "strokeWidth": 7},
   "encoding": {"x": {"field": "r", "type": "quantitative", "scale": {"type": "log", "domain": [0.001, 100]}, "axis": {"orient": "top", "tickCount": 50, "labels": false, "title": "C3\u00a0\u00a0\u00a0\u00a0\u00a0\u00a0\u00a0\u00a0Calretinin", "titleX": 21}},
                "y": {"field": "v", "type": "quantitative", "scale": {"domain": [0.0005, 0.1297]}, "axis": {"orient": "right", "values": [0.02, 0.04, 0.06, 0.08, 0.1, 0.12], "labels": false, "title": null}}}},
  {"transform": [{"filter": "datum.s!=='Numer'"}], "mark": {"type": "line", "strokeWidth": 2.2}}
 ]},
{"data": {"name": "A4"}, "width": 268, "height": 202.5,
 "resolve": {"axis": {"x": "independent", "y": "independent"}},
 "encoding": {
  "x": {"field": "r", "type": "quantitative", "scale": {"type": "log", "domain": [0.001, 100]}, "axis": {"tickCount": 50, "labelExpr": "abs(log(datum.value)/LN10-round(log(datum.value)/LN10))<0.001 && datum.value>0.0015 ? '10'+replace(replace(replace(replace(replace(toString(round(log(datum.value)/LN10)),'-','⁻'),'0','⁰'),'1','¹'),'2','²'),'3','³') : ''", "title": "r"}},
  "y": {"field": "v", "type": "quantitative", "scale": {"type": "log", "domain": [0.01, 1000]}, "axis": {"tickCount": 50, "labelExpr": "abs(log(datum.value)/LN10-round(log(datum.value)/LN10))<0.001 && datum.value<500 ? '10'+replace(replace(replace(replace(replace(toString(round(log(datum.value)/LN10)),'-','⁻'),'0','⁰'),'1','¹'),'2','²'),'3','³') : ''", "title": "c(r)"}},
  "color": {"field": "s", "type": "nominal", "scale": {"domain": ["Numer", "RBA"], "range": ["#cccccc", "#ff0000"]}, "legend": {"title": null, "orient": "none", "legendX": 153, "legendY": 12, "encode": {"symbols": {"update": {"strokeWidth": {"signal": "datum.value==='Numer'?7:2.2"}}}}}},
  "strokeDash": {"field": "s", "type": "nominal", "scale": {"domain": ["Numer", "RBA"], "range": [[1, 0], [1, 0]]}, "legend": {"title": null, "orient": "none", "legendX": 153, "legendY": 12, "encode": {"symbols": {"update": {"strokeWidth": {"signal": "datum.value==='Numer'?7:2.2"}}}}}}
 },
 "layer": [
  {"transform": [{"filter": "datum.s==='Numer'"}], "mark": {"type": "line", "strokeWidth": 7},
   "encoding": {"x": {"field": "r", "type": "quantitative", "scale": {"type": "log", "domain": [0.001, 100]}, "axis": {"orient": "top", "tickCount": 50, "labels": false, "title": "A4\u00a0\u00a0\u00a0\u00a0\u00a0\u00a0\u00a0\u00a0CaM (N-lobe)", "titleX": 1}},
                "y": {"field": "v", "type": "quantitative", "scale": {"type": "log", "domain": [0.01, 1000]}, "axis": {"orient": "right", "tickCount": 50, "labels": false, "title": null}}}},
  {"transform": [{"filter": "datum.s!=='Numer'"}], "mark": {"type": "line", "strokeWidth": 2.2}}
 ]},
{"data": {"name": "B4"}, "width": 268, "height": 202.5,
 "resolve": {"axis": {"x": "independent", "y": "independent"}},
 "encoding": {
  "x": {"field": "r", "type": "quantitative", "scale": {"type": "log", "domain": [0.001, 100]}, "axis": {"tickCount": 50, "labelExpr": "abs(log(datum.value)/LN10-round(log(datum.value)/LN10))<0.001 && datum.value>0.0015 ? '10'+replace(replace(replace(replace(replace(toString(round(log(datum.value)/LN10)),'-','⁻'),'0','⁰'),'1','¹'),'2','²'),'3','³') : ''", "title": "r"}},
  "y": {"field": "v", "type": "quantitative", "scale": {"type": "log", "domain": [0.0057, 1000]}, "axis": {"tickCount": 50, "labelExpr": "abs(log(datum.value)/LN10-round(log(datum.value)/LN10))<0.001 && datum.value<500 ? '10'+replace(replace(replace(replace(replace(toString(round(log(datum.value)/LN10)),'-','⁻'),'0','⁰'),'1','¹'),'2','²'),'3','³') : ''", "title": null}},
  "color": {"field": "s", "type": "nominal", "scale": {"domain": ["Numer", "ExpPadeA", "ExpPadeB"], "range": ["#cccccc", "#ff00ff", "#ff00ff"]}, "legend": {"title": null, "orient": "none", "legendX": 129, "legendY": 12, "encode": {"symbols": {"update": {"strokeWidth": {"signal": "datum.value==='Numer'?7:2.2"}}}}}},
  "strokeDash": {"field": "s", "type": "nominal", "scale": {"domain": ["Numer", "ExpPadeA", "ExpPadeB"], "range": [[1, 0], [9, 5], [1, 0]]}, "legend": {"title": null, "orient": "none", "legendX": 129, "legendY": 12, "encode": {"symbols": {"update": {"strokeWidth": {"signal": "datum.value==='Numer'?7:2.2"}}}}}}
 },
 "layer": [
  {"transform": [{"filter": "datum.s==='Numer'"}], "mark": {"type": "line", "strokeWidth": 7},
   "encoding": {"x": {"field": "r", "type": "quantitative", "scale": {"type": "log", "domain": [0.001, 100]}, "axis": {"orient": "top", "tickCount": 50, "labels": false, "title": "B4\u00a0\u00a0\u00a0\u00a0\u00a0\u00a0\u00a0\u00a0Ca-M (C lobe)", "titleX": 0}},
                "y": {"field": "v", "type": "quantitative", "scale": {"type": "log", "domain": [0.0057, 1000]}, "axis": {"orient": "right", "tickCount": 50, "labels": false, "title": null}}}},
  {"transform": [{"filter": "datum.s!=='Numer'"}], "mark": {"type": "line", "strokeWidth": 2.2}}
 ]},
{"data": {"name": "C4"}, "width": 268, "height": 202.5,
 "resolve": {"axis": {"x": "independent", "y": "independent"}},
 "encoding": {
  "x": {"field": "r", "type": "quantitative", "scale": {"type": "log", "domain": [0.001, 100]}, "axis": {"tickCount": 50, "labelExpr": "abs(log(datum.value)/LN10-round(log(datum.value)/LN10))<0.001 && datum.value>0.0015 ? '10'+replace(replace(replace(replace(replace(toString(round(log(datum.value)/LN10)),'-','⁻'),'0','⁰'),'1','¹'),'2','²'),'3','³') : ''", "title": "r"}},
  "y": {"field": "v", "type": "quantitative", "scale": {"type": "log", "domain": [0.0057, 1000]}, "axis": {"tickCount": 50, "labelExpr": "abs(log(datum.value)/LN10-round(log(datum.value)/LN10))<0.001 && datum.value<500 ? '10'+replace(replace(replace(replace(replace(toString(round(log(datum.value)/LN10)),'-','⁻'),'0','⁰'),'1','¹'),'2','²'),'3','³') : ''", "title": null}},
  "color": {"field": "s", "type": "nominal", "scale": {"domain": ["Numer", "ExpPadeA", "ExpPadeB", "PadeA", "PadeB"], "range": ["#cccccc", "#ff00ff", "#ff00ff", "#12a812", "#12a812"]}, "legend": {"title": null, "orient": "none", "legendX": 136, "legendY": 4, "encode": {"symbols": {"update": {"strokeWidth": {"signal": "datum.value==='Numer'?7:2.2"}}}}}},
  "strokeDash": {"field": "s", "type": "nominal", "scale": {"domain": ["Numer", "ExpPadeA", "ExpPadeB", "PadeA", "PadeB"], "range": [[1, 0], [9, 5], [1, 0], [9, 5], [1, 0]]}, "legend": {"title": null, "orient": "none", "legendX": 136, "legendY": 4, "encode": {"symbols": {"update": {"strokeWidth": {"signal": "datum.value==='Numer'?7:2.2"}}}}}}
 },
 "layer": [
  {"transform": [{"filter": "datum.s==='Numer'"}], "mark": {"type": "line", "strokeWidth": 7},
   "encoding": {"x": {"field": "r", "type": "quantitative", "scale": {"type": "log", "domain": [0.001, 100]}, "axis": {"orient": "top", "tickCount": 50, "labels": false, "title": "C4\u00a0\u00a0\u00a0\u00a0\u00a0\u00a0\u00a0\u00a0Calretinin", "titleX": 21}},
                "y": {"field": "v", "type": "quantitative", "scale": {"type": "log", "domain": [0.0057, 1000]}, "axis": {"orient": "right", "tickCount": 50, "labels": false, "title": null}}}},
  {"transform": [{"filter": "datum.s!=='Numer'"}], "mark": {"type": "line", "strokeWidth": 2.2}}
 ]}
]
}
